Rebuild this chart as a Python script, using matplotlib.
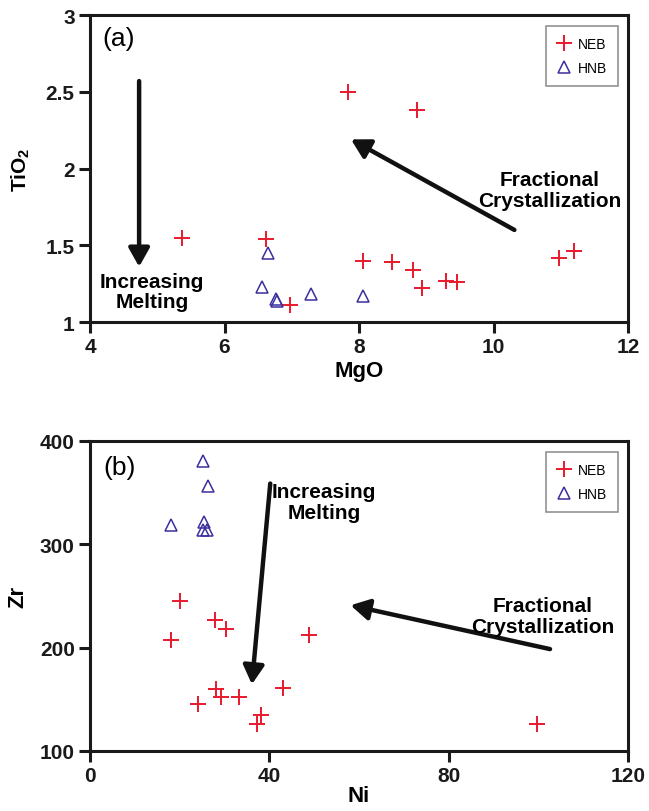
import matplotlib
matplotlib.use("Agg")
import matplotlib.pyplot as plt

# ---------------- data ----------------
# Panel (a): MgO vs TiO2
neb_mgo = [5.37, 6.62, 7.83, 8.86, 8.06, 8.49, 8.80, 8.94, 9.30, 9.46, 10.97, 11.19, 6.97]
neb_tio2 = [1.55, 1.54, 2.50, 2.38, 1.40, 1.39, 1.34, 1.22, 1.27, 1.26, 1.42, 1.46, 1.11]
hnb_mgo = [6.65, 6.55, 6.76, 6.78, 7.28, 8.06]
hnb_tio2 = [1.45, 1.23, 1.15, 1.14, 1.18, 1.17]

# Panel (b): Ni vs Zr
neb_ni = [20.0, 18.1, 27.8, 30.4, 48.8, 28.2, 29.2, 33.3, 24.1, 43.1, 38.1, 37.3, 99.7]
neb_zr = [245, 207, 227, 218, 212, 160, 152, 152, 145, 161, 135, 126, 126]
hnb_ni = [25.2, 26.4, 18.1, 25.5, 25.2, 26.1]
hnb_zr = [381, 356, 319, 322, 314, 314]

series_labels = ["NEB", "HNB"]
xticks_a = [4, 6, 8, 10, 12]
yticks_a = [1, 1.5, 2, 2.5, 3]
ytick_labels_a = ["1", "1.5", "2", "2.5", "3"]
xticks_b = [0, 40, 80, 120]
yticks_b = [100, 200, 300, 400]

RED = "#e8192c"
BLUE = "#3b2f9e"
FONT = ["Liberation Sans Narrow", "Liberation Sans", "DejaVu Sans"]

plt.rcParams["font.family"] = FONT
plt.rcParams["mathtext.fontset"] = "custom"
plt.rcParams["mathtext.rm"] = "Liberation Sans:bold"
plt.rcParams["mathtext.default"] = "regular"

fig = plt.figure(figsize=(6.49, 8.12), dpi=100)
ax_a = fig.add_axes([0.1387, 0.6022, 0.829, 0.378])
ax_b = fig.add_axes([0.1387, 0.0739, 0.829, 0.3818])


def style(ax):
    for s in ax.spines.values():
        s.set_linewidth(2.2)
        s.set_color("#1a1a1a")
    ax.tick_params(direction="out", length=8, width=2.2, labelsize=15, pad=3,
                   colors="#1a1a1a")
    for lab in ax.get_xticklabels() + ax.get_yticklabels():
        lab.set_fontweight("bold")


def scatter(ax, x1, y1, x2, y2):
    ax.plot(x1, y1, linestyle="none", marker="+", markersize=11, mew=1.4,
            color=RED, label=series_labels[0], clip_on=False)
    ax.plot(x2, y2, linestyle="none", marker="^", markersize=9, mew=1.1,
            mfc="none", mec=BLUE, label=series_labels[1], clip_on=False)
    leg = ax.legend(loc="upper right", bbox_to_anchor=(0.982, 0.965),
                    fontsize=10, frameon=True, fancybox=False,
                    edgecolor="#777777", handlelength=1.0, handletextpad=0.5,
                    borderpad=0.8, labelspacing=0.7, borderaxespad=0)
    leg.get_frame().set_linewidth(1.2)


arrow_kw = dict(arrowstyle="-|>,head_length=0.8,head_width=0.45", lw=3.2,
                color="#111111", shrinkA=0, shrinkB=0, mutation_scale=14)

# ---- panel (a)
scatter(ax_a, neb_mgo, neb_tio2, hnb_mgo, hnb_tio2)
ax_a.set_xlim(4, 12)
ax_a.set_ylim(1, 3)
ax_a.set_xticks(xticks_a)
ax_a.set_yticks(yticks_a)
ax_a.set_yticklabels(ytick_labels_a)
style(ax_a)
ax_a.set_xlabel("MgO", fontsize=16, fontweight="bold", labelpad=3)
ax_a.set_ylabel("TiO$_2$", fontsize=15, fontweight="bold", labelpad=10)
ax_a.text(4.43, 2.85, "(a)", fontsize=19, ha="center", va="center",
          family=["Liberation Sans", "DejaVu Sans"])
ax_a.annotate("", xy=(4.73, 1.36), xytext=(4.73, 2.57), arrowprops=arrow_kw)
ax_a.annotate("", xy=(7.88, 2.19), xytext=(10.31, 1.60), arrowprops=arrow_kw)
ax_a.text(4.92, 1.20, "Increasing\nMelting", fontsize=15, fontweight="bold",
          ha="center", va="center", linespacing=1.1)
ax_a.text(10.83, 1.86, "Fractional\nCrystallization", fontsize=15,
          fontweight="bold", ha="center", va="center", linespacing=1.1)

# ---- panel (b)
scatter(ax_b, neb_ni, neb_zr, hnb_ni, hnb_zr)
ax_b.set_xlim(0, 120)
ax_b.set_ylim(100, 400)
ax_b.set_xticks(xticks_b)
ax_b.set_yticks(yticks_b)
style(ax_b)
ax_b.set_xlabel("Ni", fontsize=16, fontweight="bold", labelpad=0)
ax_b.set_ylabel("Zr", fontsize=16, fontweight="bold", labelpad=8)
ax_b.text(6.6, 375, "(b)", fontsize=19, ha="center", va="center",
          family=["Liberation Sans", "DejaVu Sans"])
ax_b.annotate("", xy=(36.1, 164.5), xytext=(40.2, 358.8), arrowprops=arrow_kw)
ax_b.annotate("", xy=(58.1, 241), xytext=(102.6, 198.6), arrowprops=arrow_kw)
ax_b.text(52.2, 341, "Increasing\nMelting", fontsize=15, fontweight="bold",
          ha="center", va="center", linespacing=1.1)
ax_b.text(100.9, 230.5, "Fractional\nCrystallization", fontsize=15,
          fontweight="bold", ha="center", va="center", linespacing=1.1)

fig.savefig("out.png", dpi=100)
